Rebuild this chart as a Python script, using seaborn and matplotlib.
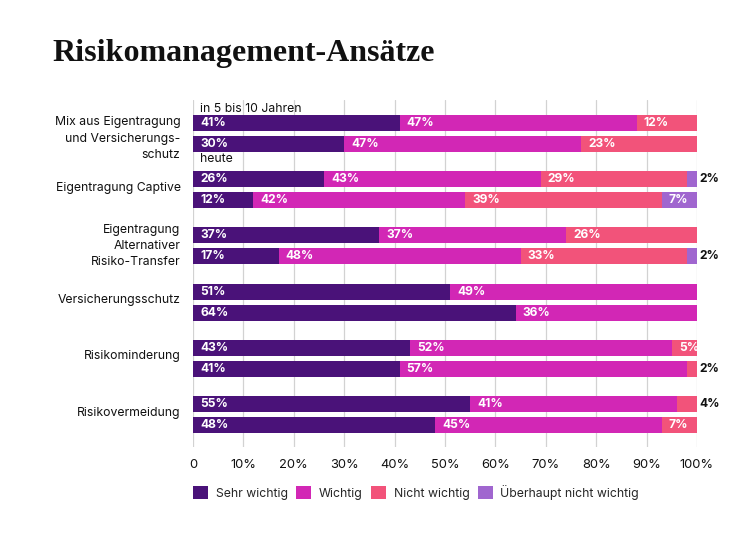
import matplotlib
matplotlib.use("Agg")
import matplotlib.pyplot as plt
import matplotlib.transforms as mtransforms
from matplotlib.patches import Patch
import seaborn as sns
import pandas as pd
import numpy as np

# ---------------- data ----------------
categories = [
    "Mix aus Eigentragung\nund Versicherungs-\nschutz",
    "Eigentragung Captive",
    "Eigentragung\nAlternativer\nRisiko-Transfer",
    "Versicherungsschutz",
    "Risikominderung",
    "Risikovermeidung",
]
periods = ["in 5 bis 10 Jahren", "heute"]
segments = ["Sehr wichtig", "Wichtig", "Nicht wichtig", "Überhaupt nicht wichtig"]

# values per period, per category: [Sehr wichtig, Wichtig, Nicht wichtig, Überhaupt nicht wichtig]
future_vals = [
    [41, 47, 12, 0],
    [26, 43, 29, 2],
    [37, 37, 26, 0],
    [51, 49, 0, 0],
    [43, 52, 5, 0],
    [55, 41, 4, 0],
]
today_vals = [
    [30, 47, 23, 0],
    [12, 42, 39, 7],
    [17, 48, 33, 2],
    [64, 36, 0, 0],
    [41, 57, 2, 0],
    [48, 45, 7, 0],
]
xticks = [0, 10, 20, 30, 40, 50, 60, 70, 80, 90, 100]
xtick_labels = ["0", "10%", "20%", "30%", "40%", "50%", "60%", "70%", "80%", "90%", "100%"]

colors = ["#4A1279", "#D227B5", "#F2537A", "#A066CF"]

# ---------------- build table ----------------
rows = []
for cat, fv, tv in zip(categories, future_vals, today_vals):
    for per, vals in ((periods[0], fv), (periods[1], tv)):
        cum = np.cumsum(vals)
        for k, seg in enumerate(segments):
            rows.append(dict(category=cat, period=per, seg=seg, val=vals[k],
                             start=cum[k] - vals[k], cum=cum[k]))
df = pd.DataFrame(rows)

# ---------------- plot ----------------
sns.set_theme(style="white")
plt.rcParams["font.family"] = ["Inter", "DejaVu Sans"]

fig = plt.figure(figsize=(7.5, 5.4), dpi=100)
ax = fig.add_axes([193 / 750, 1 - 447 / 540, 504 / 750, 347 / 540])

for k in reversed(range(len(segments))):
    sub = df[df.seg == segments[k]]
    sns.barplot(data=sub, y="category", x="cum", hue="period", order=categories,
                hue_order=periods, palette=[colors[k], colors[k]], orient="h",
                width=0.75, gap=0.24, dodge=True, legend=False, ax=ax,
                linewidth=0, saturation=1, errorbar=None, zorder=3)

offsets = {periods[0]: -0.1875, periods[1]: 0.1875}
for r in df.itertuples():
    if r.val <= 0:
        continue
    i = categories.index(r.category)
    y = i + offsets[r.period]
    if r.val < 5:
        ax.text(100.5, y, f"{r.val}%", color="#111111", fontsize=8.7,
                fontweight="bold", va="center", ha="left", zorder=5)
    else:
        ax.text(r.start + 1.4, y, f"{r.val}%", color="white", fontsize=8.7,
                fontweight="bold", va="center", ha="left", zorder=5)

ax.text(1.3, -0.44, periods[0], fontsize=8.8, color="#111111", va="center", ha="left")
ax.text(1.3, 0.46, periods[1], fontsize=8.8, color="#111111", va="center", ha="left")

ax.set_xlim(0, 100)
ax.set_ylim(5.578, -0.596)
ax.set_xticks(xticks)
ax.set_xticklabels(xtick_labels)
ax.set_xlabel("")
ax.set_ylabel("")
ax.tick_params(axis="x", length=0, pad=9, labelsize=9.3, labelcolor="#111111")
ax.tick_params(axis="y", length=0, pad=9, labelsize=8.8, labelcolor="#111111")
for idx, lab in enumerate(ax.get_yticklabels()):
    lab.set_horizontalalignment("right")
    lab.set_multialignment("right")
    lab.set_linespacing(1.45)
    dy = -1.5 if idx == 0 else 3.5
    lab.set_transform(lab.get_transform() +
                      mtransforms.ScaledTranslation(0, dy / 100, fig.dpi_scale_trans))
ax.grid(axis="x", color="#D2D2D2", linewidth=0.9, zorder=0)
ax.grid(axis="y", visible=False)
for s in ax.spines.values():
    s.set_visible(False)
ax.set_axisbelow(True)

fig.text(52 / 750, 1 - 54 / 540, "Risikomanagement-Ansätze", fontsize=23,
         fontweight="bold", family=["Liberation Serif", "DejaVu Serif"],
         va="center", ha="left", color="#111111")

handles = [Patch(facecolor=c, edgecolor="none") for c in colors]
fig.legend(handles, segments, loc="center left",
           bbox_to_anchor=(188 / 750, 1 - 492 / 540), ncol=4, frameon=False,
           fontsize=8.8, handlelength=1.25, handleheight=1.25,
           handletextpad=0.6, columnspacing=0.7, borderaxespad=0)

fig.savefig("out.png", dpi=100)
